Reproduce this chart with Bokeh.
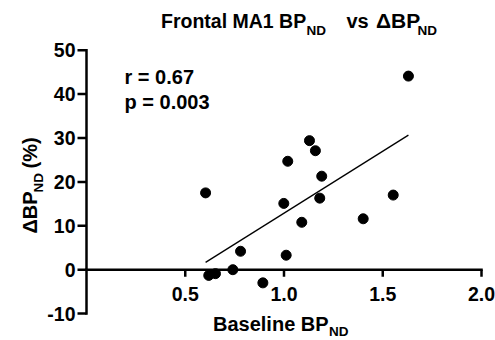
import numpy as np
from bokeh.plotting import figure
from bokeh.models import Label, LabelSet, ColumnDataSource
from bokeh.core.properties import value
from bokeh.embed import file_html
from bokeh.resources import INLINE

# ---- data ----
baseline_bp = [1.630, 0.603, 0.999, 1.019, 1.129, 1.159, 1.191, 1.181, 1.090,
               1.401, 1.553, 0.780, 1.011, 0.741, 0.619, 0.653, 0.893]
delta_bp = [44.1, 17.5, 15.1, 24.7, 29.4, 27.1, 21.3, 16.3, 10.8,
            11.6, 17.0, 4.2, 3.3, 0.0, -1.3, -0.9, -3.0]
x_ticks = [0.5, 1.0, 1.5, 2.0]
x_tick_labels = ["0.5", "1.0", "1.5", "2.0"]
y_ticks = [-10, 0, 10, 20, 30, 40, 50]
y_tick_labels = ["-10", "0", "10", "20", "30", "40", "50"]
stat_r = "r = 0.67"
stat_p = "p = 0.003"
title_main = "Frontal MA1 BP"
title_mid_a = "vs"
title_mid_b = "\u0394BP"
sub = "ND"
xlabel_main = "Baseline BP"
ylabel_main = "\u0394BP"
ylabel_tail = "(%)"

# ---- layout: the frame covers the whole canvas, axes drawn through the scales ----
W, H = 495, 340
PX0, PXU_X = 86.0, 197.5     # canvas x of x=0, px per x unit
PY0, PXU_Y = 269.2, 4.39     # canvas y of y=0, px per y unit
FONT = "Liberation Sans"

def dx(px):
    return (px - PX0) / PXU_X

def dy(py):
    return (PY0 - py) / PXU_Y

p = figure(width=W, height=H, x_range=(dx(0), dx(W)), y_range=(dy(H), dy(0)),
           output_backend="svg", toolbar_location=None,
           x_axis_location=None, y_axis_location=None,
           min_border=0)
p.title.visible = False
p.grid.visible = False
p.outline_line_color = None
p.background_fill_color = "white"
p.border_fill_color = "white"

AX_W = 2.5
# y axis
p.segment(x0=[0], y0=[y_ticks[0]], x1=[0], y1=[y_ticks[-1]],
          line_color="black", line_width=AX_W, line_cap="square")
ytl = 9.0 / PXU_X
p.segment(x0=[0] * len(y_ticks), y0=y_ticks, x1=[-ytl] * len(y_ticks), y1=y_ticks,
          line_color="black", line_width=AX_W)
ysrc = ColumnDataSource(dict(x=[-11.0 / PXU_X] * len(y_ticks),
                             y=[t - 7.0 / PXU_Y for t in y_ticks], t=y_tick_labels))
p.add_layout(LabelSet(x="x", y="y", text="t", source=ysrc, text_align="right",
                      text_baseline="alphabetic", text_font=value(FONT),
                      text_font_style="bold", text_font_size="19.5px", text_color="black"))

# x axis at y = 0
p.segment(x0=[0], y0=[0], x1=[x_ticks[-1]], y1=[0], line_color="black",
          line_width=AX_W, line_cap="square")
xtl = 7.0 / PXU_Y
p.segment(x0=x_ticks, y0=[0] * len(x_ticks), x1=x_ticks, y1=[-xtl] * len(x_ticks),
          line_color="black", line_width=AX_W)
xsrc = ColumnDataSource(dict(x=x_ticks, y=[dy(300.7)] * len(x_ticks), t=x_tick_labels))
p.add_layout(LabelSet(x="x", y="y", text="t", source=xsrc, text_align="center",
                      text_baseline="alphabetic", text_font=value(FONT),
                      text_font_style="bold", text_font_size="19.5px", text_color="black"))

# regression line
fit = np.polyfit(baseline_bp, delta_bp, 1)
fx = [min(baseline_bp), max(baseline_bp)]
p.line(fx, list(np.polyval(fit, fx)), line_color="black", line_width=1.3)

# points
p.scatter(baseline_bp, delta_bp, size=10, color="black")

def lab(text, px, py, size, angle=0.0):
    # px, py: wanted baseline start on the canvas; Label draws its text centred
    # about half a cap height lower, so compensate for that.
    fix = 0.36 * size
    if angle == 0.0:
        py = py - fix
    else:
        px = px - fix
    p.add_layout(Label(x=dx(px), y=dy(py), text=text, text_font=FONT,
                       text_font_style="bold", text_font_size=f"{size}px",
                       text_color="black", text_align="left",
                       text_baseline="alphabetic", angle=angle))

# title
lab(title_main, 160.5, 28, 19.5)
lab(sub, 306.0, 34.5, 13.5)
lab(title_mid_a, 346.0, 28, 20)
lab(title_mid_b, 375.5, 28, 21)
lab(sub, 417.0, 34.5, 13.5)

# stats
lab(stat_r, 124, 83.5, 20)
lab(stat_p, 124, 108.5, 20)

# x axis title
lab(xlabel_main, 212.5, 331, 20)
lab(sub, 328.5, 336, 13.5)

# y axis title (rotated)
lab(ylabel_main, 36.5, 233, 20, np.pi / 2)
lab(sub, 42.5, 192, 13.5, np.pi / 2)
lab(ylabel_tail, 36.5, 168, 20, np.pi / 2)

open("out.html", "w").write(file_html(p, INLINE))
